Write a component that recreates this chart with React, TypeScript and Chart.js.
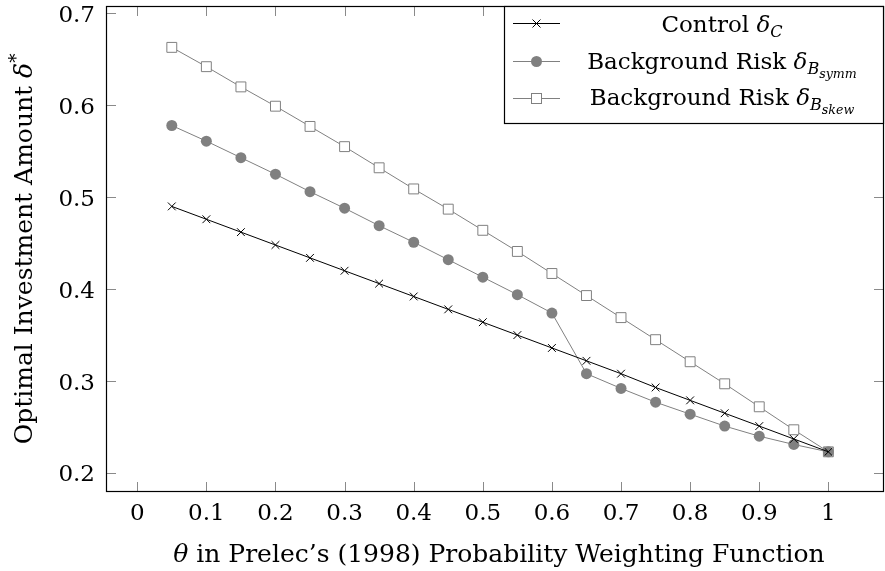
import { useEffect, useRef } from "react";
import { Chart, registerables } from "chart.js";

Chart.register(...registerables);

// ---- data ----
const thetaValues = [0.05, 0.1, 0.15, 0.2, 0.25, 0.3, 0.35, 0.4, 0.45, 0.5, 0.55, 0.6, 0.65, 0.7, 0.75, 0.8, 0.85, 0.9, 0.95, 1.0];
const controlValues = [0.490, 0.476, 0.462, 0.448, 0.434, 0.420, 0.406, 0.392, 0.378, 0.364, 0.350, 0.336, 0.322, 0.308, 0.293, 0.279, 0.265, 0.251, 0.237, 0.223];
const symmValues = [0.578, 0.561, 0.543, 0.525, 0.506, 0.488, 0.469, 0.451, 0.432, 0.413, 0.394, 0.374, 0.308, 0.292, 0.277, 0.264, 0.251, 0.240, 0.231, 0.223];
const skewValues = [0.663, 0.642, 0.620, 0.599, 0.577, 0.555, 0.532, 0.509, 0.487, 0.464, 0.441, 0.417, 0.393, 0.369, 0.345, 0.321, 0.297, 0.272, 0.247, 0.223];

const xTickValues = [0, 0.1, 0.2, 0.3, 0.4, 0.5, 0.6, 0.7, 0.8, 0.9, 1];
const xTickLabels = ["0", "0.1", "0.2", "0.3", "0.4", "0.5", "0.6", "0.7", "0.8", "0.9", "1"];
const yTickValues = [0.2, 0.3, 0.4, 0.5, 0.6, 0.7];
const yTickLabels = ["0.2", "0.3", "0.4", "0.5", "0.6", "0.7"];

const legendPrefixes = ["Control ", "Background Risk ", "Background Risk "];
const legendSubscripts = ["C", "B", "B"];
const legendSubSubscripts = ["", "symm", "skew"];

const xTitleSymbol = "θ";
const xTitleText = " in Prelec’s (1998) Probability Weighting Function";
const yTitleText = "Optimal Investment Amount ";

const FONT = '"DejaVu Serif", "Liberation Serif", serif';
const FS = 23;
const TITLE_SCALE = 25 / 23;
const GRAY = "#808080";

type Run = { t: string; italic?: boolean; scale?: number; dy?: number };

function setFont(ctx: CanvasRenderingContext2D, r: Run) {
  ctx.font = `${r.italic ? "italic " : ""}${FS * (r.scale ?? 1)}px ${FONT}`;
}

function drawRuns(ctx: CanvasRenderingContext2D, runs: Run[], x: number, y: number, align: "left" | "center" | "right") {
  let w = 0;
  for (const r of runs) {
    setFont(ctx, r);
    w += ctx.measureText(r.t).width;
  }
  let cx = align === "center" ? x - w / 2 : align === "right" ? x - w : x;
  ctx.textAlign = "left";
  ctx.textBaseline = "alphabetic";
  for (const r of runs) {
    setFont(ctx, r);
    ctx.fillText(r.t, cx, y + (r.dy ?? 0));
    cx += ctx.measureText(r.t).width;
  }
}

function drawMarker(ctx: CanvasRenderingContext2D, kind: number, x: number, y: number) {
  ctx.save();
  ctx.lineWidth = 1;
  if (kind === 0) {
    ctx.strokeStyle = "#000";
    const d = 4;
    ctx.beginPath();
    ctx.moveTo(x - d, y - d); ctx.lineTo(x + d, y + d);
    ctx.moveTo(x - d, y + d); ctx.lineTo(x + d, y - d);
    ctx.stroke();
  } else if (kind === 1) {
    ctx.fillStyle = GRAY;
    ctx.beginPath();
    ctx.arc(x, y, 5.5, 0, Math.PI * 2);
    ctx.fill();
  } else {
    ctx.fillStyle = "#fff";
    ctx.strokeStyle = GRAY;
    ctx.fillRect(x - 5, y - 5, 10, 10);
    ctx.strokeRect(x - 5, y - 5, 10, 10);
  }
  ctx.restore();
}

const framePlugin = {
  id: "frame",
  afterDraw(chart: any) {
    const ctx: CanvasRenderingContext2D = chart.ctx;
    const { left, right, top, bottom } = chart.chartArea;
    const xs = chart.scales.x;
    const ys = chart.scales.y;
    ctx.save();
    // inside ticks on all four sides
    ctx.strokeStyle = "#8a8a8a";
    ctx.lineWidth = 1;
    ctx.beginPath();
    xTickValues.forEach((v) => {
      const px = Math.round(xs.getPixelForValue(v)) + 0.5;
      ctx.moveTo(px, bottom); ctx.lineTo(px, bottom - 10);
      ctx.moveTo(px, top); ctx.lineTo(px, top + 10);
    });
    yTickValues.forEach((v) => {
      const py = Math.round(ys.getPixelForValue(v)) + 0.5;
      ctx.moveTo(left, py); ctx.lineTo(left + 10, py);
      ctx.moveTo(right, py); ctx.lineTo(right - 10, py);
    });
    ctx.stroke();

    // frame
    ctx.strokeStyle = "#000";
    ctx.lineWidth = 1.2;
    ctx.strokeRect(left + 0.5, top + 0.5, right - left - 1, bottom - top - 1);

    // tick labels
    ctx.fillStyle = "#000";
    xTickValues.forEach((v, i) => {
      drawRuns(ctx, [{ t: xTickLabels[i] }], xs.getPixelForValue(v), 520, "center");
    });
    yTickValues.forEach((v, i) => {
      drawRuns(ctx, [{ t: yTickLabels[i] }], 95, ys.getPixelForValue(v) + 8.5, "right");
    });

    // axis titles
    drawRuns(ctx, [{ t: xTitleSymbol, italic: true, scale: TITLE_SCALE }, { t: xTitleText, scale: TITLE_SCALE }], 499, 562, "center");
    ctx.save();
    ctx.translate(32, (top + bottom) / 2);
    ctx.rotate(-Math.PI / 2);
    drawRuns(ctx, [
      { t: yTitleText, scale: TITLE_SCALE },
      { t: "δ", italic: true, scale: TITLE_SCALE },
      { t: "*", scale: 0.8, dy: -10 },
    ], 0, 0, "center");
    ctx.restore();

    // legend
    const lx = 504, ly = top, lw = right - 504, lh = 118;
    ctx.fillStyle = "#fff";
    ctx.fillRect(lx, ly, lw, lh);
    ctx.strokeStyle = "#000";
    ctx.lineWidth = 1.2;
    ctx.strokeRect(lx + 0.5, ly + 0.5, lw - 1, lh - 1);
    const rowLineY = [23.5, 61.5, 98.5];
    const rowBase = [32, 68.5, 105];
    for (let i = 0; i < 3; i++) {
      ctx.strokeStyle = i === 0 ? "#000" : GRAY;
      ctx.lineWidth = 1;
      ctx.beginPath();
      ctx.moveTo(513, rowLineY[i]);
      ctx.lineTo(560, rowLineY[i]);
      ctx.stroke();
      drawMarker(ctx, i, 536.5, rowLineY[i]);
      ctx.fillStyle = "#000";
      const runs: Run[] = [
        { t: legendPrefixes[i] },
        { t: "δ", italic: true },
        { t: legendSubscripts[i], italic: true, scale: 0.7, dy: 5 },
      ];
      if (legendSubSubscripts[i]) runs.push({ t: legendSubSubscripts[i], italic: true, scale: 0.55, dy: 9 });
      drawRuns(ctx, runs, 722, rowBase[i], "center");
    }
    ctx.restore();
  },
};

export default function App() {
  const ref = useRef<HTMLCanvasElement | null>(null);
  useEffect(() => {
    document.body.style.margin = "0";
    const canvas = ref.current!;
    const mk = (vals: number[]) => thetaValues.map((x, i) => ({ x, y: vals[i] }));
    const chart = new Chart(canvas, {
      type: "line",
      data: {
        datasets: [
          {
            label: "Control",
            data: mk(controlValues),
            borderColor: "#000",
            backgroundColor: "#000",
            borderWidth: 1,
            pointStyle: "crossRot",
            pointRadius: 5.5,
            pointBorderWidth: 1,
            pointBorderColor: "#000",
          },
          {
            label: "Background Risk symm",
            data: mk(symmValues),
            borderColor: GRAY,
            backgroundColor: GRAY,
            borderWidth: 1,
            pointStyle: "circle",
            pointRadius: 5.5,
            pointBorderWidth: 0,
            pointBackgroundColor: GRAY,
          },
          {
            label: "Background Risk skew",
            data: mk(skewValues),
            borderColor: GRAY,
            backgroundColor: "#fff",
            borderWidth: 1,
            pointStyle: "rect",
            pointRadius: 7,
            pointBorderWidth: 1,
            pointBorderColor: GRAY,
            pointBackgroundColor: "#fff",
          },
        ],
      },
      options: {
        responsive: false,
        animation: false,
        devicePixelRatio: 1,
        layout: { autoPadding: false, padding: { top: 6, right: 1, left: 0, bottom: 0 } },
        plugins: { legend: { display: false }, tooltip: { enabled: false } },
        elements: { line: { tension: 0 } },
        scales: {
          x: {
            type: "linear",
            min: -0.0452,
            max: 1.0805,
            grid: { display: false, drawTicks: false },
            border: { display: false },
            ticks: { display: false },
            afterFit: (s: any) => { s.height = 79; },
          },
          y: {
            type: "linear",
            min: 0.1793,
            max: 0.708,
            grid: { display: false, drawTicks: false },
            border: { display: false },
            ticks: { display: false },
            afterFit: (s: any) => { s.width = 106; },
          },
        },
      } as any,
      plugins: [framePlugin],
    });
    return () => chart.destroy();
  }, []);
  return <canvas ref={ref} width={885} height={571} style={{ display: "block", width: 885, height: 571 }} />;
}
